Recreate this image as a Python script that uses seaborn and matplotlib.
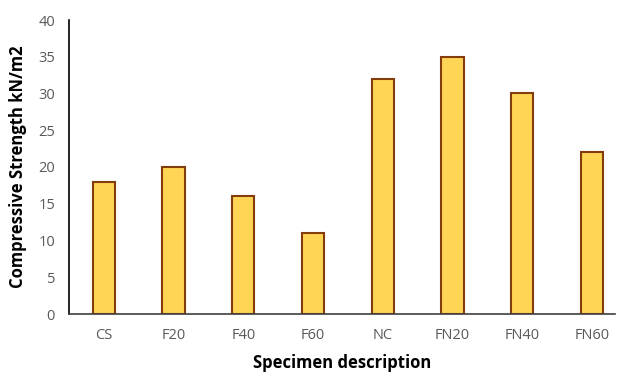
import matplotlib
matplotlib.use("Agg")
import matplotlib.pyplot as plt
import seaborn as sns
import pandas as pd

categories = ["CS", "F20", "F40", "F60", "NC", "FN20", "FN40", "FN60"]
values = [18, 20, 16, 11, 32, 35, 30, 22]
yticks = [0, 5, 10, 15, 20, 25, 30, 35, 40]

sns.set_style("white")
plt.rcParams['font.family'] = ['Open Sans', 'DejaVu Sans']

df = pd.DataFrame({"Specimen": categories, "Strength": values})

fig = plt.figure(figsize=(6.17, 3.74), dpi=100)
ax = fig.add_axes([69/617, 1-314/374, (615-69)/617, (314-20)/374])
sns.barplot(data=df, x="Specimen", y="Strength", ax=ax, color="#FFD555",
            edgecolor="#843C0C", linewidth=1.5, width=0.32, saturation=1)

ax.set_xlim(-0.5, 7.33)
ax.set_ylim(0, 40)
ax.set_yticks(yticks)
ax.tick_params(axis='both', length=0, colors="#595959", labelsize=10.5)
ax.tick_params(axis='x', pad=10)
ax.tick_params(axis='y', pad=10)
for s in ["top", "right"]:
    ax.spines[s].set_visible(False)
ax.spines["left"].set_color("black")
ax.spines["left"].set_linewidth(1.2)
ax.spines["bottom"].set_color("#404040")
ax.spines["bottom"].set_linewidth(1.2)
ax.set_xlabel("Specimen description", fontsize=12, fontweight="bold", color="black", labelpad=8)
ax.set_ylabel("Compressive Strength kN/m2", fontsize=12, fontweight="bold", color="black", labelpad=8)

fig.savefig("out.png", dpi=100)
